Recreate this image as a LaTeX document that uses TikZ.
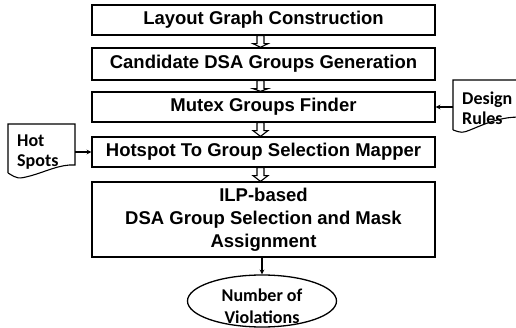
\documentclass[tikz,border=0pt]{standalone}
\usepackage{fontspec}
\setmainfont{Liberation Sans}
\newfontfamily\calibri{Carlito}
\usetikzlibrary{arrows,positioning,shapes.geometric,calc}

% hollow block arrow between two stacked boxes
\newcommand{\blockarrow}[2]{%
  \draw[line width=1.1pt, fill=white]
    let \p1=($(#1.south)+(-3pt,0)$), \p2=(#2.north) in
    (\x1-3.5pt,\y1) -- (\x1+3.5pt,\y1) -- (\x1+3.5pt,\y1-8pt) -- (\x1+7.5pt,\y1-8pt)
    -- (\x1,\y2) -- (\x1-7.5pt,\y1-8pt) -- (\x1-3.5pt,\y1-8pt) -- cycle;}

\begin{document}
\begin{tikzpicture}[>=stealth, x=1pt, y=1pt,
  stage/.style={draw, line width=1.3pt, minimum width=343pt, align=center, font=\bfseries\fontsize{18.5}{23}\selectfont},
  docnote/.style={anchor=west, align=left, font=\calibri\bfseries\fontsize{18}{20}\selectfont, inner sep=0pt},
  result/.style={draw, ellipse, line width=1.3pt, minimum width=149pt, minimum height=52pt, inner sep=0pt, align=center, font=\calibri\bfseries\fontsize{18}{22}\selectfont}]
\useasboundingbox (0,0) rectangle (516,-328);
\node[stage, minimum height=30pt] (graph) at (263.5,-20) {Layout Graph Construction};
\node[stage, minimum height=32pt] (cand) at (263.5,-64) {Candidate DSA Groups Generation};
\node[stage, minimum height=30pt] (mutex) at (263.5,-107) {Mutex Groups Finder};
\node[stage, minimum height=30pt] (mapper) at (263.5,-152) {Hotspot To Group Selection Mapper};
\node[stage, minimum height=75pt] (ilp) at (263.5,-219.5) {ILP-based\\DSA Group Selection and Mask\\Assignment};
\node[result] (viol) at (262,-301) {\raisebox{-11pt}[0pt][0pt]{\begin{tabular}{@{}c@{}}Number of\\Violations\end{tabular}}};
\node[docnote] (rules) at (462,-108) {Design\\Rules};
\node[docnote] (hot) at (17,-152) {Hot\\Spots};
% document outlines
\draw[line width=1.1pt] (453,-130) -- (453,-80) -- (530,-80) -- (530,-118)
  .. controls (505,-114) and (485,-124) .. (470,-130) .. controls (462,-133) .. (453,-130);
\draw[line width=1.1pt] (8,-173) -- (8,-124) -- (75,-124) -- (75,-165)
  .. controls (60,-164) and (45,-172) .. (30,-176) .. controls (18,-179) .. (8,-173);
\coordinate (rulesin) at (453,-107);
\coordinate (hotout) at (75,-152);
\blockarrow{graph}{cand}
\blockarrow{cand}{mutex}
\blockarrow{mutex}{mapper}
\blockarrow{mapper}{ilp}
\draw[->, line width=1.1pt] (rulesin) -- (mutex.east |- rulesin);
\draw[->, line width=1.1pt] (hotout) -- (mapper.west |- hotout);
\draw[->, line width=1.1pt] (ilp.south -| viol) -- (viol.north);
\end{tikzpicture}
\end{document}
